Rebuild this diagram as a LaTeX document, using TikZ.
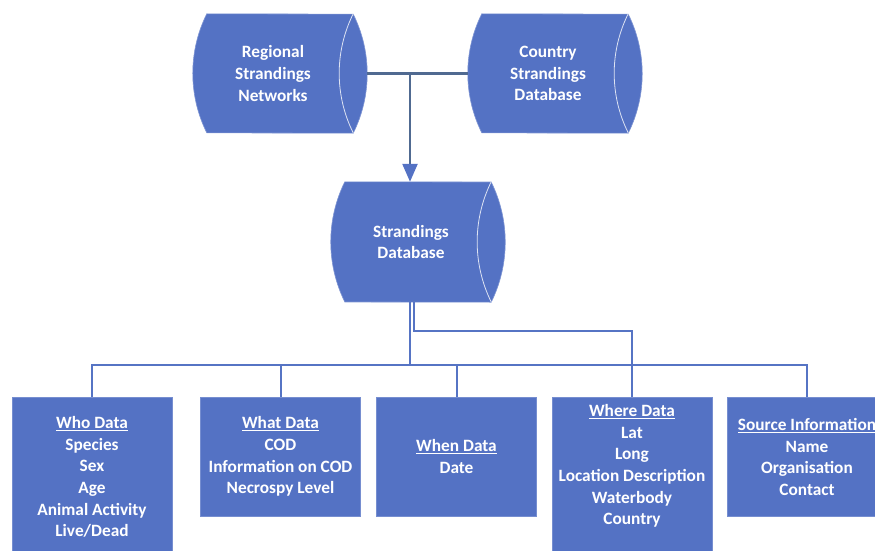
\documentclass[tikz,border=0pt]{standalone}
\usepackage{fontspec}
\setmainfont{Carlito}
\usetikzlibrary{arrows.meta,backgrounds,calc}
\definecolor{boxblue}{RGB}{84,114,196}
\definecolor{slate}{RGB}{80,106,145}
\definecolor{linkblue}{RGB}{86,116,196}
% #1 node, #2 arc radius, #3 half angle
\newcommand\dbshape[3]{%
  \begin{pgfonlayer}{background}
  \path[fill=boxblue,draw=boxblue!75!white,line width=0.6pt] (#1.north west)
     arc[start angle=180-#3,end angle=180+#3,radius=#2]
     -- ([xshift=14pt]#1.south east)
     arc[start angle=-#3,end angle=#3,radius=#2] -- cycle;
  \draw[white!80!boxblue,line width=0.8pt] ([xshift=14pt]#1.north east)
     arc[start angle=180-#3,end angle=180+#3,radius=#2];
  \end{pgfonlayer}
  \coordinate (#1-r) at ([xshift=28pt]#1.east);
  \coordinate (#1-l) at ([xshift=-14pt]#1.west);
}
\begin{document}
\begin{tikzpicture}[x=1pt,y=1pt,
  lbl/.style={text=white,font=\fontsize{17.3}{21.6}\selectfont\bfseries,align=center,inner sep=0pt},
  dbnode/.style={lbl,minimum width=132pt,minimum height=#1},
  databox/.style={fill=boxblue,draw=boxblue!80!white,line width=0.6pt,inner sep=0pt,minimum width=160pt},
  toplink/.style={draw=slate,line width=2.4pt},
  link/.style={draw=linkblue,line width=2pt}]
\clip (0,0) rectangle (875,-551);
\useasboundingbox (0,0) rectangle (875,-551);

% storage shapes
\node[dbnode=119pt] (reg) at (273,-73.5) {Regional\\Strandings\\Networks};
\dbshape{reg}{133.4pt}{26.5}
\node[dbnode=119pt] (cty) at (548,-73.5) {Country\\Strandings\\Database};
\dbshape{cty}{133.4pt}{26.5}
\node[dbnode=120pt] (sdb) at (411,-242) {Strandings\\Database};
\dbshape{sdb}{135.6pt}{26.3}

% top connector
\coordinate (j) at (410,-73.5);
\draw[toplink] (reg-r) -- (cty-l);
\draw[toplink,-{Triangle[length=18pt,width=15pt,fill=boxblue,color=boxblue]}] (j) -- (j |- sdb.north);

% data boxes
\node[databox,minimum height=163pt] (who) at (92,-478.5) {};
\node[databox,minimum height=119pt] (what) at (280.5,-456.5) {};
\node[databox,minimum height=119pt] (when) at (456.5,-456.5) {};
\node[databox,minimum height=163pt] (where) at (632,-478.5) {};
\node[databox,minimum height=119pt] (src) at (807,-456.5) {};

\node[lbl] (whot) at (92,-477) {\underline{Who Data}\\Species\\Sex\\Age\\Animal Activity\\Live/Dead};
\node[lbl] (whatt) at (280.5,-456.5) {\underline{What Data}\\COD\\Information on COD\\Necrospy Level};
\node[lbl] (whent) at (456.5,-456.5) {\underline{When Data}\\Date};
\node[lbl] (wheret) at (632,-466) {\underline{Where Data}\\Lat\\Long\\Location Description\\Waterbody\\Country};
\node[lbl] (srct) at (807,-457) {\underline{Source Information}\\Name\\Organisation\\Contact};

% bottom connectors
\coordinate (b) at (410,-365);
\coordinate (b2) at (413.5,-331);
\draw[link] (sdb.south -| b) -- (b);
\draw[link] (sdb.south -| b2) -- (b2) -- (b2 -| where.north) -- (where.north);
\draw[link] (who.north) -- (who.north |- b) -- (src.north |- b) -- (src.north);
\draw[link] (what.north) -- (what.north |- b);
\draw[link] (when.north) -- (when.north |- b);
\end{tikzpicture}
\end{document}
